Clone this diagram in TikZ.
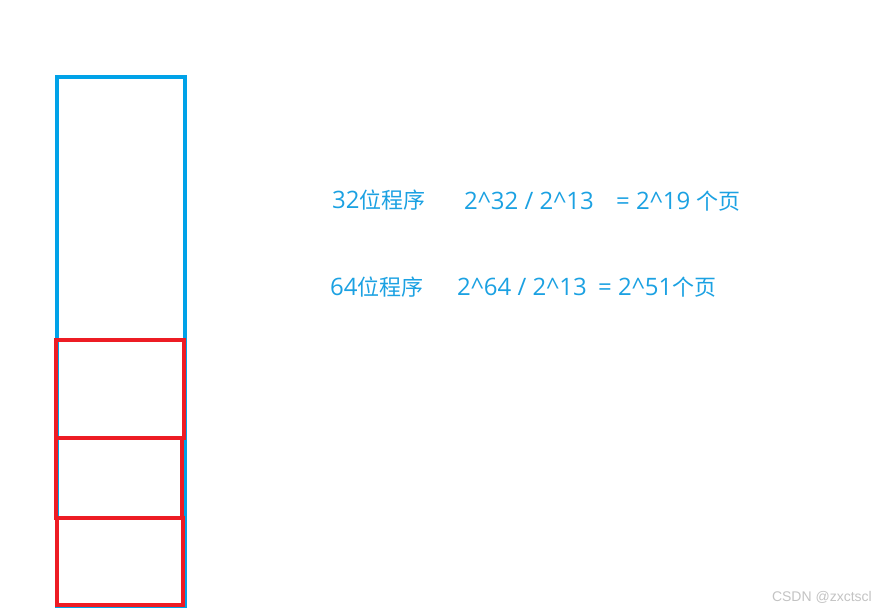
\documentclass[tikz,border=0pt]{standalone}
\usepackage{fontspec}
\setmainfont{Open Sans}
\newfontfamily\cjk{Noto Sans CJK SC}
\newfontfamily\markfont{Liberation Sans}
\newcommand\zh[1]{{\cjk\fontsize{22}{24}\selectfont #1}}
\definecolor{pageblue}{RGB}{0,162,232}
\definecolor{textblue}{RGB}{27,161,226}
\definecolor{framered}{RGB}{237,28,36}
\definecolor{markgray}{RGB}{195,195,195}
\tikzset{
  bigframe/.style={draw=pageblue, line width=3.5pt},
  pageframe/.style={draw=framered, line width=4pt},
  calc text/.style={anchor=west, inner sep=0pt, text=textblue, font=\fontsize{24}{26}\selectfont}
}
\begin{document}
\begin{tikzpicture}[x=1pt, y=-1pt]
        \useasboundingbox (0,0) rectangle (876,612);

        % Espacio de direcciones completo
        \draw[bigframe] (57,77) rectangle (185,606);

        % Páginas
        \draw[pageframe] (56,340) rectangle (184,438);
        \draw[pageframe] (56,438) rectangle (182,518);
        \draw[pageframe] (57,518) rectangle (183,605);

        % Cálculo para 32 bits
        \node[calc text] (prog32) at (332,200) {32\zh{位程序}};
        \node[calc text] (div32) at (464,201) {2\textasciicircum32 / 2\textasciicircum13};
        \node[calc text] (res32) at (616,201) {= 2\textasciicircum19 \zh{个页}};

        % Cálculo para 64 bits
        \node[calc text] (prog64) at (330,287) {64\zh{位程序}};
        \node[calc text] (div64) at (457,287) {2\textasciicircum64 / 2\textasciicircum13};
        \node[calc text] (res64) at (598,287) {= 2\textasciicircum51\zh{个页}};

        % Marca de agua
        \node[anchor=east, inner sep=0pt, text=markgray, font=\markfont\fontsize{14}{16}\selectfont] (mark) at (872,597) {CSDN @zxctscl};

    \end{tikzpicture}
\end{document}
